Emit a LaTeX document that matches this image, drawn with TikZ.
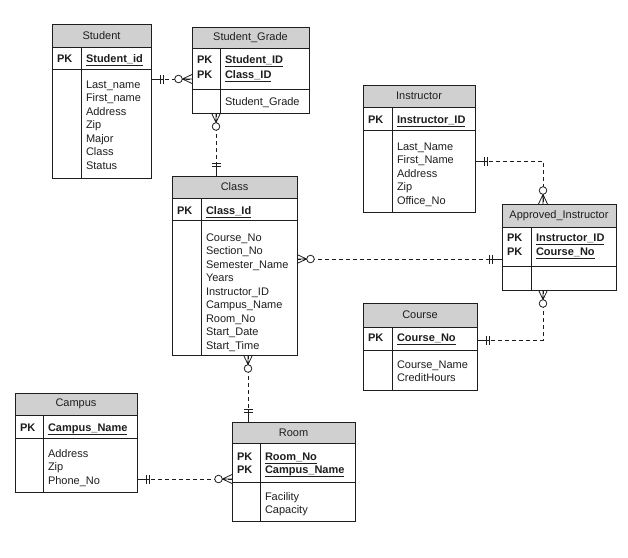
\documentclass[tikz,border=0pt]{standalone}
\usepackage{fontspec}
\setmainfont{Liberation Sans}
\usetikzlibrary{calc}
\definecolor{hdr}{RGB}{208,208,208}
\definecolor{ink}{RGB}{30,30,30}
\tikzset{
  tbl/.style={draw=ink, line width=0.9pt, inner sep=0pt, outer sep=0pt},
  txt/.style={inner sep=0pt, outer sep=0pt, text=ink, font=\fontsize{11}{13}\selectfont},
  con/.style={draw=ink, line width=0.8pt},
  dsh/.style={con, dash pattern=on 4pt off 3pt},
}
% name, left, right, top, header bottom, pk bottom, bottom, divider, title
\newcommand\erent[9]{%
  \fill[hdr] (#2,-#4) rectangle (#3,-#5);
  \node[tbl, anchor=north west, minimum width={#3pt-#2pt}, minimum height={#7pt-#4pt}] (#1) at (#2,-#4) {};
  \draw[tbl] (#2,-#5) -- (#3,-#5) (#2,-#6) -- (#3,-#6) (#8,-#5) -- (#8,-#7);
  \node[txt] (#1-title) at ({(#2+#3)/2},{-(#4+#5)/2}) {#9};
}
% name, x of PK, x of field, list y/text
\newcommand\erpk[4]{%
  \foreach \yy/\ff [count=\i] in {#4} {
    \node[txt, anchor=base west] (#1-pkl\i) at (#2,{-(\yy+4)}) {\bfseries PK};
    \node[txt, anchor=base west] (#1-pk\i) at (#3,{-(\yy+4)}) {\bfseries\underline{\ff}};
  }
}
% name, x, y of first line, list
\newcommand\erbody[4]{%
  \foreach \ff [count=\i from 0] in {#4} {
    \node[txt, anchor=base west] (#1-f\i) at (#2,{-(#3+13.5*\i+4)}) {\ff};
  }
}
\newcommand\crowend[2]{%
  \begin{scope}[shift={(#1)}, rotate=#2]
    \draw[con] (0,4.5) -- (9.5,0) -- (0,-4.5) (0,0) -- (9.5,0);
    \draw[con, fill=white] (13.5,0) circle (3.8);
  \end{scope}
}
\newcommand\barsend[2]{%
  \begin{scope}[shift={(#1)}, rotate=#2]
    \draw[con] (0,0) -- (13,0) (9.5,-4.5) -- (9.5,4.5) (12.5,-4.5) -- (12.5,4.5);
  \end{scope}
}
\begin{document}
\begin{tikzpicture}[x=1pt, y=1pt]
\fill[white] (0,0) rectangle (628,-557);
\useasboundingbox (0,0) rectangle (628,-557);

% Student
\erent{student}{52}{151}{24}{47}{69}{178}{81}{Student}
\erpk{student}{57}{86}{58/Student\_id}
\erbody{student}{86}{84}{Last\_name,First\_name,Address,Zip,Major,Class,Status}

% Student_Grade
\erent{sg}{192}{309}{27}{48}{89}{113}{220}{Student\_Grade}
\erpk{sg}{197}{225}{59/Student\_ID,74/Class\_ID}
\erbody{sg}{225}{101}{Student\_Grade}

% Class
\erent{class}{172}{297}{176}{198}{220}{355}{201}{Class}
\erpk{class}{177}{206}{210/Class\_Id}
\erbody{class}{206}{237}{Course\_No,Section\_No,Semester\_Name,Years,Instructor\_ID,Campus\_Name,Room\_No,Start\_Date,Start\_Time}

% Instructor
\erent{instr}{363}{475}{85}{107}{130}{212}{392}{Instructor}
\erpk{instr}{368}{397}{119/Instructor\_ID}
\erbody{instr}{397}{146}{Last\_Name,First\_Name,Address,Zip,Office\_No}

% Approved_Instructor
\erent{ai}{502}{616}{204}{227}{266}{290}{531}{Approved\_Instructor}
\erpk{ai}{507}{536}{237/Instructor\_ID,251/Course\_No}

% Course
\erent{course}{363}{477}{303}{327}{350}{390}{392}{Course}
\erpk{course}{368}{397}{337/Course\_No}
\erbody{course}{397}{364}{Course\_Name,CreditHours}

% Campus
\erent{campus}{15}{137}{393}{415}{438}{492}{43}{Campus}
\erpk{campus}{20}{48}{427/Campus\_Name}
\erbody{campus}{48}{453}{Address,Zip,Phone\_No}

% Room
\erent{room}{232}{355}{422}{443}{482}{521}{260}{Room}
\erpk{room}{237}{265}{456/Room\_No,469/Campus\_Name}
\erbody{room}{265}{496}{Facility,Capacity}

% connection points
\coordinate (c1a) at (student.east |- 0,-79);
\coordinate (c1b) at (sg.west |- 0,-79);
\coordinate (c2a) at (sg.south -| 216,0);
\coordinate (c2b) at (class.north -| 216,0);
\coordinate (c3a) at (class.east |- 0,-259);
\coordinate (c3b) at (ai.west |- 0,-259);
\coordinate (c4a) at (instr.east |- 0,-161);
\coordinate (c4b) at (ai.north -| 543,0);
\coordinate (c5a) at (ai.south -| 543,0);
\coordinate (c5b) at (course.east |- 0,-340);
\coordinate (c6a) at (class.south -| 248,0);
\coordinate (c6b) at (room.north -| 248,0);
\coordinate (c7a) at (campus.east |- 0,-479);
\coordinate (c7b) at (room.west |- 0,-479);

% connectors
\draw[dsh] (c1a) -- (c1b);
\draw[dsh] (c2a) -- (c2b);
\draw[dsh] (c3a) -- (c3b);
\draw[dsh] (c4a) -| (c4b);
\draw[dsh] (c5a) |- (c5b);
\draw[dsh] (c6a) -- (c6b);
\draw[dsh] (c7a) -- (c7b);

% ends
\barsend{c1a}{0}   \crowend{c1b}{180}
\crowend{c2a}{-90} \barsend{c2b}{90}
\crowend{c3a}{0}   \barsend{c3b}{180}
\barsend{c4a}{0}   \crowend{c4b}{90}
\crowend{c5a}{-90} \barsend{c5b}{0}
\crowend{c6a}{-90} \barsend{c6b}{90}
\barsend{c7a}{0}   \crowend{c7b}{180}
\end{tikzpicture}
\end{document}
